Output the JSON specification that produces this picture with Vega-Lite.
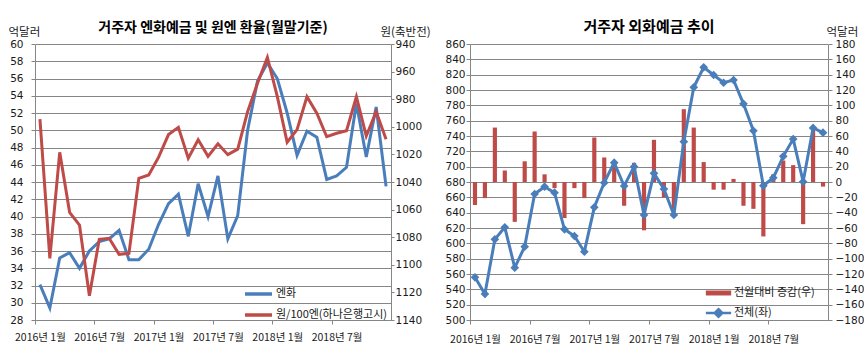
{
  "$schema": "https://vega.github.io/schema/vega-lite/v6.json",
  "background": "white",
  "padding": {"left": 8, "top": 20, "right": 0, "bottom": 0},
  "datasets": {
    "left": [
      {"m": "2016-01", "yen": 32.1, "krw": 994.5},
      {"m": "2016-02", "yen": 29.4, "krw": 1095.3},
      {"m": "2016-03", "yen": 35.2, "krw": 1018.5},
      {"m": "2016-04", "yen": 35.8, "krw": 1062.0},
      {"m": "2016-05", "yen": 34.0, "krw": 1071.2},
      {"m": "2016-06", "yen": 36.0, "krw": 1122.4},
      {"m": "2016-07", "yen": 37.1, "krw": 1081.5},
      {"m": "2016-08", "yen": 37.4, "krw": 1080.8},
      {"m": "2016-09", "yen": 38.4, "krw": 1092.4},
      {"m": "2016-10", "yen": 35.0, "krw": 1091.7},
      {"m": "2016-11", "yen": 35.0, "krw": 1037.3},
      {"m": "2016-12", "yen": 36.2, "krw": 1034.9},
      {"m": "2017-01", "yen": 39.1, "krw": 1022.0},
      {"m": "2017-02", "yen": 41.5, "krw": 1005.6},
      {"m": "2017-03", "yen": 42.6, "krw": 1000.4},
      {"m": "2017-04", "yen": 37.7, "krw": 1022.8},
      {"m": "2017-05", "yen": 43.8, "krw": 1009.4},
      {"m": "2017-06", "yen": 40.0, "krw": 1021.4},
      {"m": "2017-07", "yen": 44.7, "krw": 1012.3},
      {"m": "2017-08", "yen": 37.4, "krw": 1020.2},
      {"m": "2017-09", "yen": 40.1, "krw": 1016.2},
      {"m": "2017-10", "yen": 50.0, "krw": 989.0},
      {"m": "2017-11", "yen": 55.7, "krw": 968.5},
      {"m": "2017-12", "yen": 57.8, "krw": 949.7},
      {"m": "2018-01", "yen": 56.0, "krw": 978.0},
      {"m": "2018-02", "yen": 52.0, "krw": 1011.2},
      {"m": "2018-03", "yen": 47.1, "krw": 1002.0},
      {"m": "2018-04", "yen": 49.9, "krw": 978.2},
      {"m": "2018-05", "yen": 49.2, "krw": 990.2},
      {"m": "2018-06", "yen": 44.3, "krw": 1007.2},
      {"m": "2018-07", "yen": 44.7, "krw": 1004.7},
      {"m": "2018-08", "yen": 45.7, "krw": 1002.8},
      {"m": "2018-09", "yen": 53.1, "krw": 978.2},
      {"m": "2018-10", "yen": 46.9, "krw": 1006.7},
      {"m": "2018-11", "yen": 52.7, "krw": 989.0},
      {"m": "2018-12", "yen": 43.5, "krw": 1009.1}
    ],
    "right": [
      {"m": "2016-01", "total": 555.7, "chg": -30},
      {"m": "2016-02", "total": 534.0, "chg": -21},
      {"m": "2016-03", "total": 605.2, "chg": 71},
      {"m": "2016-04", "total": 620.9, "chg": 15},
      {"m": "2016-05", "total": 568.3, "chg": -52},
      {"m": "2016-06", "total": 595.7, "chg": 27},
      {"m": "2016-07", "total": 664.4, "chg": 66},
      {"m": "2016-08", "total": 673.9, "chg": 10},
      {"m": "2016-09", "total": 666.1, "chg": -8},
      {"m": "2016-10", "total": 618.3, "chg": -47},
      {"m": "2016-11", "total": 609.6, "chg": -8},
      {"m": "2016-12", "total": 589.1, "chg": -21},
      {"m": "2017-01", "total": 647.0, "chg": 58},
      {"m": "2017-02", "total": 679.1, "chg": 32},
      {"m": "2017-03", "total": 705.2, "chg": 25},
      {"m": "2017-04", "total": 674.8, "chg": -31},
      {"m": "2017-05", "total": 700.0, "chg": 25},
      {"m": "2017-06", "total": 637.0, "chg": -63},
      {"m": "2017-07", "total": 691.3, "chg": 55},
      {"m": "2017-08", "total": 670.9, "chg": -20},
      {"m": "2017-09", "total": 637.0, "chg": -35},
      {"m": "2017-10", "total": 732.6, "chg": 95},
      {"m": "2017-11", "total": 803.5, "chg": 71},
      {"m": "2017-12", "total": 829.6, "chg": 26},
      {"m": "2018-01", "total": 819.6, "chg": -10},
      {"m": "2018-02", "total": 809.5, "chg": -10},
      {"m": "2018-03", "total": 813.0, "chg": 4},
      {"m": "2018-04", "total": 782.0, "chg": -31},
      {"m": "2018-05", "total": 746.9, "chg": -35},
      {"m": "2018-06", "total": 675.2, "chg": -71},
      {"m": "2018-07", "total": 685.5, "chg": 10},
      {"m": "2018-08", "total": 713.5, "chg": 28},
      {"m": "2018-09", "total": 736.0, "chg": 22},
      {"m": "2018-10", "total": 680.4, "chg": -55},
      {"m": "2018-11", "total": 750.5, "chg": 70},
      {"m": "2018-12", "total": 744.3, "chg": -6}
    ]
  },
  "spacing": 79,
  "bounds": "flush",
  "resolve": {"scale": {"color": "independent"}, "legend": {"color": "independent"}},
  "hconcat": [
    {
      "width": 356,
      "height": 276,
      "title": {"text": "거주자 엔화예금 및 원엔 환율(월말기준)", "fontSize": 14, "offset": -9, "frame": "group", "anchor": "middle"},
      "data": {"name": "left"},
      "encoding": {
        "x": {
          "field": "m", "type": "ordinal",
          "scale": {"type": "band", "paddingInner": 0, "paddingOuter": 0},
          "axis": {
            "values": ["2016-01", "2016-07", "2017-01", "2017-07", "2018-01", "2018-07"],
            "labelExpr": "substring(datum.value,0,4) + '년 ' + toNumber(substring(datum.value,5,7)) + '월'",
            "labelAngle": 0, "title": null, "grid": false,
            "tickOffset": -4.94, "labelOffset": 4.94,
            "tickSize": 4, "labelPadding": 8, "labelOverlap": false,
            "labelFontSize": 10.5
          }
        }
      },
      "layer": [
        {
          "mark": {"type": "line", "strokeWidth": 3},
          "encoding": {
            "y": {
              "field": "yen", "type": "quantitative",
              "scale": {"domain": [28, 60], "nice": false, "zero": false},
              "axis": {
                "orient": "left",
                "values": [28, 30, 32, 34, 36, 38, 40, 42, 44, 46, 48, 50, 52, 54, 56, 58, 60],
                "grid": true, "tickSize": 4, "labelPadding": 8, "labelOverlap": false,
                "labelFont": "DejaVu Sans", "labelFontSize": 10.5,
                "title": "억달러", "titleAngle": 0, "titleAlign": "left", "titleBaseline": "alphabetic",
                "titleX": -27, "titleY": -9
              }
            },
            "color": {
              "datum": "엔화", "type": "nominal",
              "scale": {"domain": ["엔화", "원/100엔(하나은행고시)"], "range": ["#4A7EBB", "#BE4B48"]},
              "legend": {
                "orient": "none", "legendX": 216, "legendY": 242.5, "title": null,
                "symbolType": "M-2.45,0H2.45", "symbolSize": 121, "symbolStrokeWidth": 3.5,
                "labelOffset": 10, "rowPadding": 6, "padding": 0, "labelFontSize": 11
              }
            }
          }
        },
        {
          "mark": {"type": "line", "strokeWidth": 3},
          "encoding": {
            "y": {
              "field": "krw", "type": "quantitative",
              "scale": {"domain": [940, 1140], "nice": false, "zero": false, "reverse": true},
              "axis": {
                "orient": "right", "format": "d",
                "values": [940, 960, 980, 1000, 1020, 1040, 1060, 1080, 1100, 1120, 1140],
                "grid": false, "tickSize": 3, "labelPadding": 1, "labelOverlap": false,
                "labelFont": "DejaVu Sans", "labelFontSize": 10.5,
                "title": "원(축반전)", "titleAngle": 0, "titleAlign": "left", "titleBaseline": "alphabetic",
                "titleX": -11, "titleY": -9
              }
            },
            "color": {"datum": "원/100엔(하나은행고시)", "type": "nominal"}
          }
        }
      ],
      "resolve": {"scale": {"y": "independent"}}
    },
    {
      "width": 358,
      "height": 276,
      "title": {"text": "거주자 외화예금 추이", "fontSize": 15, "offset": -9, "frame": "group", "anchor": "middle"},
      "data": {"name": "right"},
      "encoding": {
        "x": {
          "field": "m", "type": "ordinal",
          "scale": {"type": "band", "paddingInner": 0, "paddingOuter": 0},
          "axis": {
            "values": ["2016-01", "2016-07", "2017-01", "2017-07", "2018-01", "2018-07"],
            "labelExpr": "substring(datum.value,0,4) + '년 ' + toNumber(substring(datum.value,5,7)) + '월'",
            "labelAngle": 0, "title": null, "grid": false,
            "tickOffset": -4.97, "labelOffset": 4.97,
            "tickSize": 4, "labelPadding": 10, "labelOverlap": false,
            "labelFontSize": 10.5
          }
        }
      },
      "layer": [
        {
          "mark": {"type": "bar", "width": {"band": 0.42}},
          "encoding": {
            "y": {
              "field": "chg", "type": "quantitative",
              "scale": {"domain": [-180, 180], "nice": false},
              "axis": {
                "orient": "right",
                "values": [-180, -160, -140, -120, -100, -80, -60, -40, -20, 0, 20, 40, 60, 80, 100, 120, 140, 160, 180],
                "grid": false, "tickSize": 4, "labelPadding": 3, "labelOverlap": false,
                "labelFont": "DejaVu Sans", "labelFontSize": 10.5,
                "title": "억달러", "titleAngle": 0, "titleAlign": "left", "titleBaseline": "alphabetic",
                "titleX": -2, "titleY": -9
              }
            },
            "color": {
              "datum": "전월대비 증감(우)", "type": "nominal",
              "scale": {"domain": ["전월대비 증감(우)", "전체(좌)"], "range": ["#BE4B48", "#4A7EBB"]},
              "legend": {
                "orient": "none", "legendX": 243, "legendY": 243.5, "title": null,
                "symbolSize": 121, "labelOffset": 10, "rowPadding": 5, "padding": 0, "labelFontSize": 11,
                "encode": {
                  "symbols": {
                    "update": {
                      "shape": {"signal": "datum.value === '전체(좌)' ? 'M-2.3,0H2.3M0,-0.7L0.7,0L0,0.7L-0.7,0Z' : 'M-2.3,-0.45H2.3V0.45H-2.3Z'"},
                      "fill": {"signal": "datum.value === '전체(좌)' ? '#4A7EBB' : '#BE4B48'"},
                      "stroke": {"signal": "datum.value === '전체(좌)' ? '#4A7EBB' : '#BE4B48'"},
                      "strokeWidth": {"signal": "datum.value === '전체(좌)' ? 2.5 : 0"},
                      "opacity": {"value": 1},
                      "fillOpacity": {"value": 1},
                      "strokeOpacity": {"value": 1}
                    }
                  }
                }
              }
            }
          }
        },
        {
          "mark": {"type": "line", "strokeWidth": 3, "point": {"filled": true, "shape": "diamond", "size": 75}},
          "encoding": {
            "y": {
              "field": "total", "type": "quantitative",
              "scale": {"domain": [500, 860], "nice": false, "zero": false},
              "axis": {
                "orient": "left",
                "values": [500, 520, 540, 560, 580, 600, 620, 640, 660, 680, 700, 720, 740, 760, 780, 800, 820, 840, 860],
                "grid": true, "tickSize": 4, "labelPadding": 1, "labelOverlap": false,
                "labelFont": "DejaVu Sans", "labelFontSize": 10.5,
                "title": null
              }
            },
            "color": {"datum": "전체(좌)", "type": "nominal"}
          }
        }
      ],
      "resolve": {"scale": {"y": "independent"}}
    }
  ],
  "config": {
    "font": "Noto Sans CJK KR",
    "view": {"stroke": null},
    "title": {"fontWeight": "bold", "color": "#000000", "font": "Noto Sans CJK KR"},
    "axis": {
      "labelColor": "#1a1a1a", "titleColor": "#1a1a1a",
      "titleFontSize": 11.5, "titleFontWeight": "normal", "titleFont": "Noto Sans CJK KR",
      "labelFont": "Noto Sans CJK KR",
      "domainColor": "#868686", "tickColor": "#868686", "gridColor": "#868686", "gridOpacity": 1,
      "domainWidth": 1, "tickWidth": 1, "gridWidth": 1
    },
    "legend": {"labelColor": "#1a1a1a", "labelFont": "Noto Sans CJK KR"}
  }
}
